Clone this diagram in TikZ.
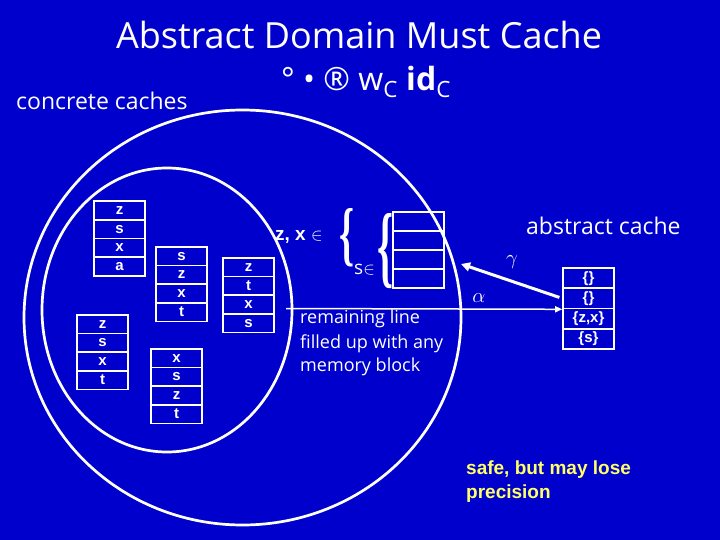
\documentclass[tikz,border=0pt]{standalone}
\usepackage{fontspec}
\usepackage{graphicx}
\setmainfont{Open Sans}
\newfontfamily\arial{Liberation Sans}
\newfontfamily\timesb{Liberation Serif}[UprightFont=* Bold]
\usetikzlibrary{arrows.meta}
\definecolor{bg}{RGB}{0,0,204}
\definecolor{yel}{RGB}{255,255,102}
\newcommand\cachestack[5]{% name, x, y, row height, labels
  \foreach \lab [count=\i] in {#5} {
    \node[cell,minimum height=#4pt] (#1-\i) at ({#2+25.5},{#3+#4/2+#4*(\i-1)}) {\lab};
  }
}
\newcommand\bigbrace[2]{\resizebox{#1}{#2}{\timesb\{}}
\begin{document}
\begin{tikzpicture}[x=1pt,y=-1pt,
  every node/.style={text=white},
  cell/.style={draw=white,line width=1.6pt,minimum width=51pt,inner sep=0pt,
    font=\arial\bfseries\fontsize{15}{15}\selectfont},
  comic/.style={font=\fontsize{#1}{#1}\selectfont},
  ring/.style={draw=white,line width=2.7pt}]
\fill[bg] (0,0) rectangle (720,540);
\useasboundingbox (0,0) rectangle (720,540);

% titles
\node[comic=36] (title) at (359,35) {Abstract Domain Must Cache};
\node[comic=32] (sub) at (366,82) {°~•~®~w\textsubscript{C}~\textbf{id}\textsubscript{C}};
\node[comic=23,anchor=west,inner sep=0pt] (cc) at (16,101) {concrete caches};
\node[comic=23,anchor=west,inner sep=0pt] (ab) at (526,226) {abstract cache};

% ellipses
\draw[ring] (242.5,317.5) ellipse [x radius=218.5pt, y radius=207.5pt];
\draw[ring] (167,310) ellipse [x radius=125pt, y radius=142pt];

% concrete caches
\cachestack{c1}{94}{201}{18.75}{z,s,x,a}
\cachestack{c2}{156}{247}{18.6}{s,z,x,t}
\cachestack{c3}{223}{258}{18.6}{z,t,x,s}
\cachestack{c4}{77}{315}{18.6}{z,s,x,t}
\cachestack{c5}{151}{349}{18.6}{x,s,z,t}

% abstract set cache
\cachestack{as}{393}{212}{19}{{},{},{},{}}
\node[anchor=west,inner sep=0pt,font=\arial\bfseries\fontsize{19}{19}\selectfont] (zx) at (275,237) {z, x {\mdseries$\in$}};
\node[inner sep=0pt] (br1) at (347,238) {\bigbrace{15pt}{49pt}};
\node[anchor=west,inner sep=0pt,font=\fontsize{19}{19}\selectfont] (sin) at (354,270) {s$\in$};
\node[inner sep=0pt] (br2) at (385,251) {\bigbrace{16pt}{63pt}};

\node[comic=18,anchor=north west,align=left,inner sep=0pt] (rem) at (300,310)
  {remaining line\\[5.5pt]filled up with any\\[5.5pt]memory block};

% abstract cache
\cachestack{ac}{563}{268}{20.25}{\{\},\{\},{\{z,x\}},\{s\}}

% arrows
\coordinate (alstart) at (286,308.5);
\draw[white,line width=1.5pt,-{Triangle[length=7pt,width=6pt]}] (alstart) -- (ac-2.south west);
\node[font=\fontsize{20}{20}\selectfont] (alpha) at (479,298) {$\alpha$};
\coordinate (gend) at (461,264);
\draw[white,line width=3pt,-{Triangle[length=9pt,width=9pt]},shorten <=3pt] (ac-2.west) -- (gend);
\node[font=\fontsize{20}{20}\selectfont] (gamma) at (512,262) {$\gamma$};

% safe note
\node[anchor=north west,align=left,inner sep=0pt,text=yel,
  font=\arial\bfseries\fontsize{19}{19}\selectfont] (safe) at (466,461)
  {safe, but may lose\\[5pt]precision};
\end{tikzpicture}
\end{document}
